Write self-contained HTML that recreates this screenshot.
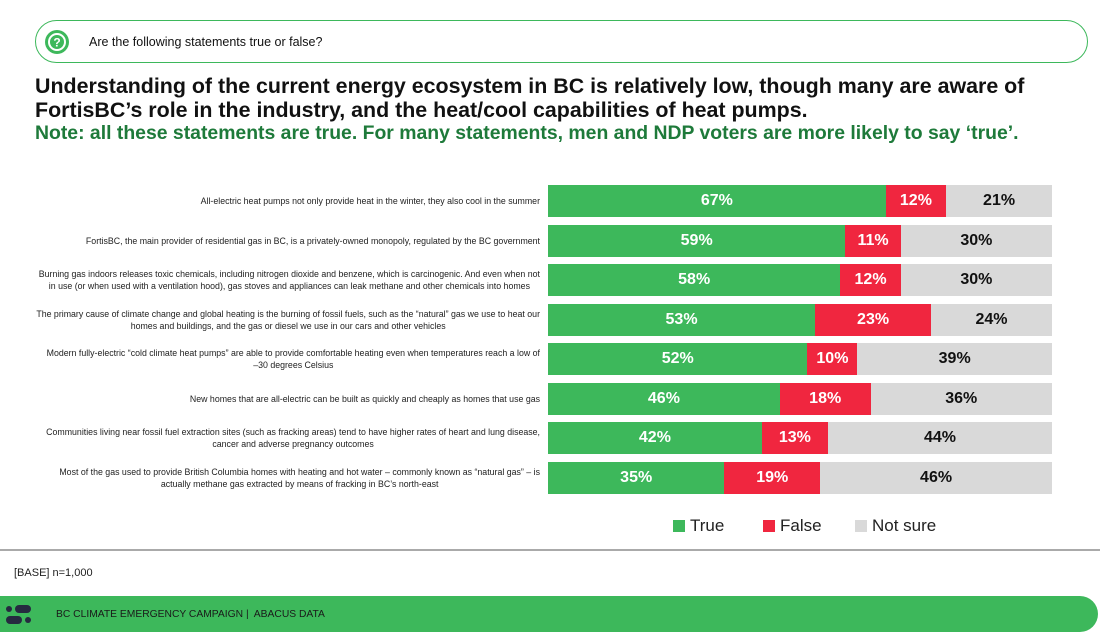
<!DOCTYPE html>
<html><head><meta charset="utf-8">
<style>
body{margin:0;width:1100px;height:632px;background:#fff;font-family:"Liberation Sans",sans-serif;position:relative;overflow:hidden}
.abs{position:absolute}
#qbox{left:35px;top:20px;width:1053px;height:43px;border:1.5px solid #3db85b;border-radius:22px;box-sizing:border-box}
#title{left:35px;top:74px;font-size:21.4px;font-weight:bold;color:#111;line-height:24px;white-space:nowrap}
#note{left:35px;top:122px;font-size:19.4px;font-weight:bold;color:#1e7a3a;white-space:nowrap}
.lbl{position:absolute;right:560px;text-align:center;font-size:8.8px;color:#222;line-height:12px;white-space:nowrap}
.seg{position:absolute;height:32px;line-height:32px;text-align:center;font-size:16px;font-weight:bold}
.leg{position:absolute;top:516px;font-size:17px;color:#222;line-height:20px}
.sq{display:inline-block;width:12px;height:12px;margin-right:5px;vertical-align:-1px}
</style></head><body>
<div id="qbox" class="abs"></div>
<svg class="abs" style="left:44px;top:29px" width="26" height="26">
<circle cx="13" cy="13" r="12" fill="#3db85b"/><circle cx="13" cy="13" r="8" fill="none" stroke="#fff" stroke-width="2"/>
<text x="13" y="17.5" text-anchor="middle" font-size="12" font-weight="bold" fill="#fff" font-family="Liberation Sans">?</text></svg>
<div class="abs" style="left:89px;top:35px;font-size:12.5px;color:#111">Are the following statements true or false?</div>
<div id="title" class="abs">Understanding of the current energy ecosystem in BC is relatively low, though many are aware of<br>FortisBC’s role in the industry, and the heat/cool capabilities of heat pumps.</div>
<div id="note" class="abs">Note: all these statements are true. For many statements, men and NDP voters are more likely to say ‘true’.</div>
<div id="chart"></div>
<div class="leg" style="left:673px"><span class="sq" style="background:#3db85b"></span>True</div>
<div class="leg" style="left:763px"><span class="sq" style="background:#f0263f"></span>False</div>
<div class="leg" style="left:855px"><span class="sq" style="background:#d9d9d9"></span>Not sure</div>
<div class="abs" style="left:0;top:549px;width:1100px;height:2px;background:#aaa"></div>
<div class="abs" style="left:14px;top:567px;font-size:11px;color:#222">[BASE] n=1,000</div>
<div class="abs" style="left:0;top:596px;width:1098px;height:36px;background:#3db85b;border-radius:0 18px 18px 0"></div>
<svg class="abs" style="left:6px;top:603px" width="40" height="24">
<circle cx="3" cy="6" r="3" fill="#262a40"/><rect x="9" y="2" width="16" height="8" rx="4" fill="#262a40"/>
<rect x="0" y="13" width="16" height="8" rx="4" fill="#262a40"/><circle cx="22" cy="17" r="3" fill="#262a40"/></svg>
<div class="abs" style="left:56px;top:609px;font-size:10.3px;color:#1a1a1a">BC CLIMATE EMERGENCY CAMPAIGN |&nbsp; ABACUS DATA</div>
<script>
const labels=[["All-electric heat pumps not only provide heat in the winter, they also cool in the summer"],
["FortisBC, the main provider of residential gas in BC, is a privately-owned monopoly, regulated by the BC government"],
["Burning gas indoors releases toxic chemicals, including nitrogen dioxide and benzene, which is carcinogenic. And even when not","in use (or when used with a ventilation hood), gas stoves and appliances can leak methane and other chemicals into homes"],
["The primary cause of climate change and global heating is the burning of fossil fuels, such as the “natural” gas we use to heat our","homes and buildings, and the gas or diesel we use in our cars and other vehicles"],
["Modern fully-electric “cold climate heat pumps” are able to provide comfortable heating even when temperatures reach a low of","–30 degrees Celsius"],
["New homes that are all-electric can be built as quickly and cheaply as homes that use gas"],
["Communities living near fossil fuel extraction sites (such as fracking areas) tend to have higher rates of heart and lung disease,","cancer and adverse pregnancy outcomes"],
["Most of the gas used to provide British Columbia homes with heating and hot water – commonly known as “natural gas” – is","actually methane gas extracted by means of fracking in BC’s north-east"]];
const trueVals=[67,59,58,53,52,46,42,35];
const falseVals=[12,11,12,23,10,18,13,19];
const notSureVals=[21,30,30,24,39,36,44,46];
const X0=548,W=504,Y0=185,STEP=39.5,BH=32;
const chart=document.getElementById('chart');
const series=[[trueVals,'#3db85b','#fff','true'],[falseVals,'#f0263f','#fff','false'],[notSureVals,'#d9d9d9','#111','not-sure']];
labels.forEach((lines,i)=>{
  const y=Y0+i*STEP;
  const l=document.createElement('div');
  l.className='lbl';
  
  
  l.style.top=(y+16-lines.length*6)+'px';
  l.innerHTML=lines.join('<br>');
  chart.appendChild(l);
  const total=trueVals[i]+falseVals[i]+notSureVals[i];
  const xs=v=>v*W/total;
  let acc=0;
  series.forEach(([vals,bg,fg,nm])=>{
    const s=document.createElement('div');
    s.className='seg';
    
    
    s.style.left=(X0+xs(acc))+'px';
    s.style.width=xs(vals[i])+'px';
    s.style.top=y+'px';
    s.style.background=bg;s.style.color=fg;
    s.textContent=vals[i]+'%';
    chart.appendChild(s);
    acc+=vals[i];
  });
});
</script>
</body></html>
